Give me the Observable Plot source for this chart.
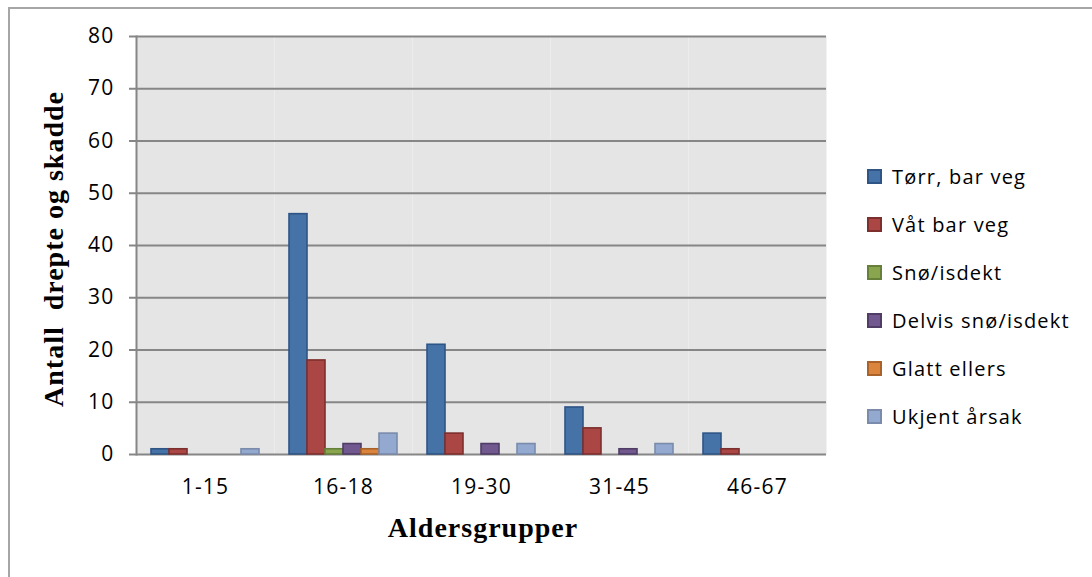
<!DOCTYPE html>
<html>
<head>
<meta charset="utf-8">
<script src="https://cdn.jsdelivr.net/npm/d3@7"></script>
<script src="https://cdn.jsdelivr.net/npm/@observablehq/plot@0.6"></script>
<style>
  html, body { margin: 0; padding: 0; background: #fff; }
  #chart { position: relative; width: 1092px; height: 577px; overflow: hidden; }
  #chart svg { position: absolute; left: 0; top: 0; }
  .frame-line { position: absolute; background: #a6a6a6; }
  .xtitle, .ytitle {
    position: absolute; font-family: "Liberation Serif", serif; font-weight: bold;
    font-size: 28px; color: #000; letter-spacing: 1px; white-space: pre;
  }
  .xtitle { left: 483px; top: 512px; transform: translateX(-50%); }
  .ytitle { left: 54px; top: 249px; transform: translate(-50%, -50%) rotate(-90deg); }
  #legend { position: absolute; left: 867px; top: 152px; font-family: "Open Sans", sans-serif; font-size: 20px; letter-spacing: 1.2px; color: #000; }
  #legend .row { display: flex; align-items: center; height: 48px; }
  #legend .sw { width: 11px; height: 11px; border: 2px solid; margin-right: 10px; }
</style>
</head>
<body>
<div id="chart"></div>
<script>
// Age groups, road-surface categories and counts per category
const groups = ["1-15", "16-18", "19-30", "31-45", "46-67"];
const series = ["Tørr, bar veg", "Våt bar veg", "Snø/isdekt", "Delvis snø/isdekt", "Glatt ellers", "Ukjent årsak"];
const torr   = [1, 46, 21, 9, 4];
const vat    = [1, 18, 4, 5, 1];
const sno    = [0, 1, 0, 0, 0];
const delvis = [0, 2, 2, 1, 0];
const glatt  = [0, 1, 0, 0, 0];
const ukjent = [1, 4, 2, 2, 0];
const yTicks = [0, 10, 20, 30, 40, 50, 60, 70, 80];

const fills   = ["#4572a7", "#aa4643", "#89a54e", "#71588f", "#db843d", "#93a9cf"];
const strokes = ["#2e5585", "#7d2f2d", "#66803a", "#4f3d66", "#a8622a", "#7a8bab"];

const seriesValues = [torr, vat, sno, delvis, glatt, ukjent];
const rows = [];
groups.forEach((g, i) => series.forEach((s, j) => rows.push({group: g, series: s, value: seriesValues[j][i]})));

const chart = Plot.plot({
  width: 1092,
  height: 577,
  marginLeft: 136,
  marginRight: 266,
  marginTop: 36,
  marginBottom: 123,
  style: {fontFamily: "'Open Sans', sans-serif", background: "transparent"},
  fx: {domain: groups, padding: 0, label: null, axis: null},
  x: {domain: series, paddingInner: 0, paddingOuter: 0.72, axis: null},
  y: {domain: [0, 80], ticks: yTicks, label: null},
  color: {domain: series, range: fills},
  marks: [
    Plot.frame({fill: "#e5e5e5", stroke: null}),
    Plot.gridY(yTicks, {stroke: "#868686", strokeOpacity: 1, strokeWidth: 2}),
    Plot.frame({anchor: "left", facetAnchor: "left", stroke: "#868686", strokeWidth: 2}),
    Plot.barY(rows.filter(d => d.value > 0), {
      fx: "group", x: "series", y: "value",
      fill: "series",
      stroke: d => strokes[series.indexOf(d.series)],
      strokeWidth: 1.6
    }),
    Plot.axisY(yTicks, {tickSize: 7, stroke: "#868686", strokeWidth: 2, tickPadding: 15, fontSize: 21, label: null, fill: "#000"}),
    Plot.axisFx({anchor: "bottom", tickSize: 0, tickPadding: 25, fontSize: 21, label: null, fill: "#000"})
  ]
});
chart.style.letterSpacing = "1.2px";

const root = document.getElementById("chart");
root.appendChild(chart);

// outer chart border (top and left edges)
const borderTop = document.createElement("div");
borderTop.className = "frame-line";
Object.assign(borderTop.style, {left: "8px", top: "7px", width: "1084px", height: "1.5px"});
root.appendChild(borderTop);
const borderLeft = document.createElement("div");
borderLeft.className = "frame-line";
Object.assign(borderLeft.style, {left: "8px", top: "7px", width: "1.5px", height: "570px"});
root.appendChild(borderLeft);

const xt = document.createElement("div");
xt.className = "xtitle";
xt.textContent = "Aldersgrupper";
root.appendChild(xt);
const yt = document.createElement("div");
yt.className = "ytitle";
yt.textContent = "Antall  drepte og skadde";
root.appendChild(yt);

const legend = document.createElement("div");
legend.id = "legend";
series.forEach((s, j) => {
  const row = document.createElement("div");
  row.className = "row";
  const sw = document.createElement("span");
  sw.className = "sw";
  sw.style.background = fills[j];
  sw.style.borderColor = strokes[j];
  const label = document.createElement("span");
  label.textContent = s;
  row.appendChild(sw);
  row.appendChild(label);
  legend.appendChild(row);
});
root.appendChild(legend);
</script>
</body>
</html>
